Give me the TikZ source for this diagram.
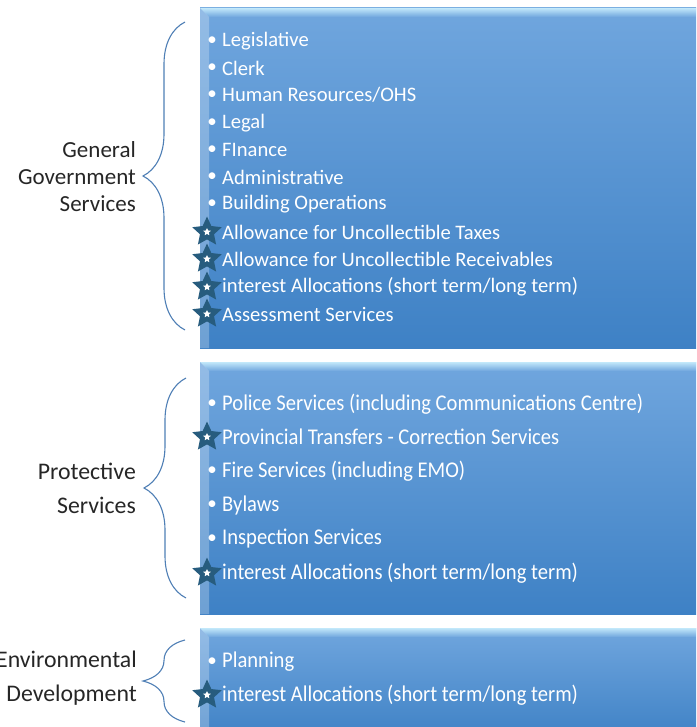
\documentclass[tikz,border=0pt]{standalone}
\usepackage{fontspec}
\setmainfont{Carlito}
\usetikzlibrary{shapes.geometric,decorations.pathreplacing}

\definecolor{boxtop}{HTML}{70A6DE}
\definecolor{boxbot}{HTML}{3E81C5}
\definecolor{bevel}{HTML}{C2E8FA}
\definecolor{bracecol}{HTML}{4F7FB5}
\definecolor{starcol}{HTML}{275C7E}
\definecolor{labcol}{HTML}{262626}

\tikzset{
  itemtext/.style={anchor=west, text=white, inner sep=0pt, font=\fontsize{20.6}{22}\selectfont},
  itembig/.style={itemtext, font=\fontsize{22.5}{24}\selectfont, xscale=0.915},
  bulletmark/.style={text=white, inner sep=0pt, font=\fontsize{19}{20}\selectfont},
  starmark/.style={star, star points=5, star point ratio=2.1, fill=starcol, inner sep=0pt, minimum size=31pt},
  starinner/.style={star, star points=5, star point ratio=2.1, fill=white, inner sep=0pt, minimum size=8pt},
  grouplabel/.style={anchor=east, align=right, text=labcol, inner sep=0pt},
  groupbrace/.style={draw=bracecol, line width=1.1pt, decorate, decoration={brace, amplitude=42pt}}
}

% one blue panel: top y, bottom y
\newcommand{\servicepanel}[2]{
  \shade[top color=boxtop, bottom color=boxbot] (200,#1) rectangle (696,#2);
  \shade[top color=bevel, bottom color=boxtop] (200,#1) -- (696,#1) -- (696,#1+9) -- (209,#1+9) -- cycle;
  \fill[white, opacity=0.25] (200,#1) -- (209,#1+9) -- (209,#2) -- (200,#2) -- cycle;
}

\begin{document}
\begin{tikzpicture}[x=1pt,y=-1pt]
  \useasboundingbox (0,0) rectangle (696,727);

  % panels
  \servicepanel{8}{348}
  \servicepanel{362}{614}
  \servicepanel{628}{740}

  % general government
  \foreach \y/\txt [count=\i] in {41/Legislative, 68/Clerk, 95/{Human Resources/OHS}, 123/Legal,
      150/FInance, 177/Administrative, 204/Building Operations,
      232/Allowance for Uncollectible Taxes, 259/Allowance for Uncollectible Receivables,
      287/{interest Allocations (short term/long term)}, 314/Assessment Services}
    \node[itemtext] (gen\i) at (222,\y) {\txt};
  \foreach \y in {41,68,95,123,150,177,204}
    \node[bulletmark] at (212,\y) {•};
  \foreach \y in {232,259,287,314}{
    \node[starmark] at (207,\y) {};
    \node[starinner] at (207,\y) {};
  }

  % protective
  \foreach \y/\txt [count=\i] in {404/Police Services (including Communications Centre),
      437/Provincial Transfers - Correction Services, 471/Fire Services (including EMO),
      505/Bylaws, 539/Inspection Services, 573/{interest Allocations (short term/long term)}}
    \node[itembig] (pro\i) at (222,\y) {\txt};
  \foreach \y in {404,471,505,539}
    \node[bulletmark] at (212,\y) {•};
  \foreach \y in {437,573}{
    \node[starmark] at (207,\y) {};
    \node[starinner] at (207,\y) {};
  }

  % environmental
  \node[itembig] (env1) at (222,662) {Planning};
  \node[itembig] (env2) at (222,695) {interest Allocations (short term/long term)};
  \node[bulletmark] at (212,662) {•};
  \node[starmark] at (207,695) {};
  \node[starinner] at (207,695) {};

  % braces and group names
  \draw[groupbrace] (185,330) -- (185,22);
  \draw[groupbrace] (186,598) -- (186,378);
  \draw[groupbrace] (185,722) -- (185,640);

  \node[grouplabel, font=\fontsize{23}{27}\selectfont] (genlab) at (136,177) {General\\Government\\Services};
  \node[grouplabel, font=\fontsize{23.8}{34}\selectfont] (prolab) at (136,488) {Protective\\Services};
  \node[grouplabel, font=\fontsize{23.8}{34}\selectfont] (envlab) at (137,678) {Environmental\\Development};
\end{tikzpicture}
\end{document}
